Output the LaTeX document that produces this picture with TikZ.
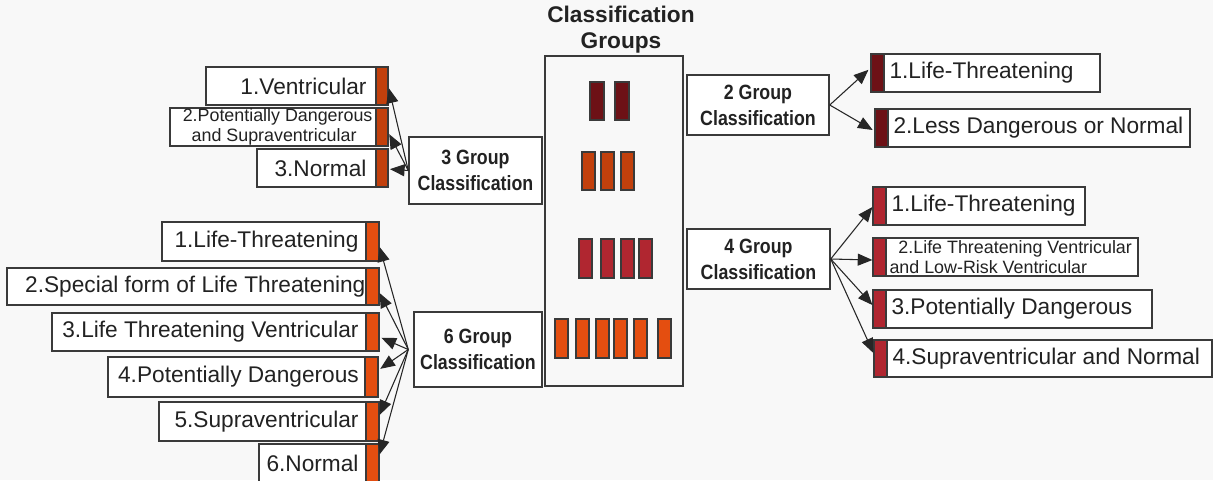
\documentclass[tikz,border=0pt]{standalone}
\usepackage{fontspec}
\setmainfont{Liberation Sans}
\newfontfamily\narrowfont{Liberation Sans}[FakeStretch=0.86]
\usetikzlibrary{fit,arrows.meta,calc}
\definecolor{bg}{HTML}{F8F8F8}
\definecolor{ink}{HTML}{222222}
\definecolor{edge}{HTML}{3A3A3A}
\definecolor{ctwo}{HTML}{6D1116}
\definecolor{cthree}{HTML}{C2400C}
\definecolor{cfour}{HTML}{B02630}
\definecolor{csix}{HTML}{E44E10}
\tikzset{
  box/.style={draw=edge, line width=1.1pt, fill=white, inner sep=0pt},
  bar/.style={draw=edge, line width=0.9pt, inner sep=0pt},
  grp/.style={draw=edge, line width=1.1pt, fill=white, inner sep=0pt},
  grptxt/.style={text=ink, align=center, inner sep=0pt, font=\narrowfont\bfseries\fontsize{15.5}{19.5}\selectfont},
  itxt/.style={text=ink, inner sep=0pt, font=\fontsize{17}{20}\selectfont},
  stxt/.style={text=ink, inner sep=0pt, align=left, font=\fontsize{13.4}{15}\selectfont},
  arr/.style={draw=black!85, line width=0.8pt, -{Triangle[length=11pt,width=9pt]}},
}
\begin{document}
\begin{tikzpicture}[x=0.75pt,y=-0.75pt]
\fill[bg] (0,0) rectangle (1213,480);
\clip (0,0) rectangle (1213,480);

% title and central box
\node[text=ink, align=center, inner sep=0pt, font=\bfseries\fontsize{17}{19.5}\selectfont] (title) at (621,30) {Classification\\Groups};
\node[grp, fill=bg, fit={(545,56)(683,386)}] (central) {};
% row bars
\foreach \x [count=\i] in {590,615} \node[bar, fill=ctwo, fit={(\x,82)(\x+14,120)}] (rtwo\i) {};
\foreach \x [count=\i] in {582,601,621} \node[bar, fill=cthree, fit={(\x,152)(\x+13,190)}] (rthree\i) {};
\foreach \x [count=\i] in {579,601,621,639} \node[bar, fill=cfour, fit={(\x,239)(\x+13,278)}] (rfour\i) {};
\foreach \x [count=\i] in {555,576,596,614,634,658} \node[bar, fill=csix, fit={(\x,319)(\x+13,358)}] (rsix\i) {};

% group boxes
\node[grp, fit={(409,137)(542,204)}] (g3) {};
\node[grptxt] (g3t) at (g3.center) {3 Group\\Classification};
\node[grp, fit={(414,312)(542,387)}] (g6) {};
\node[grptxt] (g6t) at (g6.center) {6 Group\\Classification};
\node[grp, fit={(687,75)(829,135)}] (g2) {};
\node[grptxt] (g2t) at (g2.center) {2 Group\\Classification};
\node[grp, fit={(687,229)(830,289)}] (g4) {};
\node[grptxt] (g4t) at (g4.center) {4 Group\\Classification};

% ---- 3 group items (left)
\node[box, fit={(206,67)(376,105)}] (a1) {};
\node[bar, fill=cthree, fit={(376,67)(388,105)}] (a1b) {};
\node[itxt, anchor=east] (a1t) at ([xshift=-7.5pt]a1.east) {1.Ventricular};
\node[box, fit={(170,108)(376,146)}] (a2) {};
\node[bar, fill=cthree, fit={(376,108)(388,146)}] (a2b) {};
\node[stxt, anchor=east] (a2t) at ([xshift=-3pt]a2.east) {2.Potentially Dangerous\\\hspace*{0.5em}and Supraventricular};
\node[box, fit={(257,149)(376,187)}] (a3) {};
\node[bar, fill=cthree, fit={(376,149)(388,187)}] (a3b) {};
\node[itxt, anchor=east] (a3t) at ([xshift=-7.5pt]a3.east) {3.Normal};

\draw[arr, shorten >=1pt] (g3.west) -- ([yshift=-0.75pt]a1b.east);
\draw[arr, shorten >=1pt] (g3.west) -- ([yshift=-4.5pt]a2b.east);
\draw[arr, shorten >=1pt] (g3.west) -- ([yshift=-0.75pt]a3b.east);

% ---- 6 group items (left)
\node[box, fit={(162,222)(366,261)}] (b1) {};
\node[bar, fill=csix, fit={(366,222)(379,261)}] (b1b) {};
\node[itxt, anchor=east] (b1t) at ([xshift=-6pt]b1.east) {1.Life-Threatening};
\node[box, fit={(7,268)(366,305)}] (b2) {};
\node[bar, fill=csix, fit={(366,268)(379,305)}] (b2b) {};
\node[itxt, anchor=east] (b2t) at ([xshift=-0.8pt]b2.east) {2.Special form of Life Threatening};
\node[box, fit={(52,313)(366,351)}] (b3) {};
\node[bar, fill=csix, fit={(366,313)(379,351)}] (b3b) {};
\node[itxt, anchor=east] (b3t) at ([xshift=-6pt]b3.east) {3.Life Threatening Ventricular};
\node[box, fit={(108,357)(365,397)}] (b4) {};
\node[bar, fill=csix, fit={(365,357)(378,397)}] (b4b) {};
\node[itxt, anchor=east] (b4t) at ([xshift=-5pt]b4.east) {4.Potentially Dangerous};
\node[box, fit={(159,402)(366,441)}] (b5) {};
\node[bar, fill=csix, fit={(366,402)(379,441)}] (b5b) {};
\node[itxt, anchor=east] (b5t) at ([xshift=-6pt]b5.east) {5.Supraventricular};
\node[box, fit={(259,444)(366,492)}] (b6) {};
\node[bar, fill=csix, fit={(366,444)(379,492)}] (b6b) {};
\node[itxt, anchor=east] (b6t) at ([xshift=-6pt]b6.east |- 0,463) {6.Normal};

\coordinate (g6o) at ([xshift=-3.75pt]g6.west);
\draw[arr] (g6o) -- ([yshift=-4.1pt]b1b.east);
\draw[arr] (g6o) -- ([yshift=-4.9pt]b2b.east);
\draw[arr, shorten >=1.5pt] (g6o) -- ([yshift=-3.75pt]b3b.east);
\draw[arr, shorten >=1.5pt] (g6o) -- ([yshift=5.25pt]b4b.east);
\draw[arr] (g6o) -- ([yshift=4.9pt]b5b.east);
\draw[arr] (g6o) -- ([yshift=-8.25pt]b6b.north east);

% ---- 2 group items (right)
\node[box, fit={(884,54)(1100,92)}] (c1) {};
\node[bar, fill=ctwo, fit={(871,54)(884,92)}] (c1b) {};
\node[itxt, anchor=west] (c1t) at ([xshift=4.5pt]c1.west) {1.Life-Threatening};
\node[box, fit={(888,109)(1190,147)}] (c2) {};
\node[bar, fill=ctwo, fit={(875,109)(888,147)}] (c2b) {};
\node[itxt, anchor=west] (c2t) at ([xshift=4.5pt]c2.west) {2.Less Dangerous or Normal};

\draw[arr, shorten >=2pt] (g2.east) -- ([yshift=3.75pt]c1b.west);
\draw[arr, shorten >=1.5pt] (g2.east) -- ([yshift=-2.25pt]c2b.west);

% ---- 4 group items (right)
\node[box, fit={(886,187)(1085,225)}] (d1) {};
\node[bar, fill=cfour, fit={(873,187)(886,225)}] (d1b) {};
\node[itxt, anchor=west] (d1t) at ([xshift=4.5pt]d1.west) {1.Life-Threatening};
\node[box, fit={(886,238)(1138,276)}] (d2) {};
\node[bar, fill=cfour, fit={(873,238)(886,276)}] (d2b) {};
\node[stxt, anchor=west] (d2t) at ([xshift=3pt]d2.west) {\hspace*{0.5em}2.Life Threatening Ventricular\\and Low-Risk Ventricular};
\node[box, fit={(886,290)(1152,328)}] (d3) {};
\node[bar, fill=cfour, fit={(873,290)(886,328)}] (d3b) {};
\node[itxt, anchor=west] (d3t) at ([xshift=4.5pt]d3.west) {3.Potentially Dangerous};
\node[box, fit={(887,340)(1212,377)}] (d4) {};
\node[bar, fill=cfour, fit={(874,340)(887,377)}] (d4b) {};
\node[itxt, anchor=west] (d4t) at ([xshift=4.5pt]d4.west) {4.Supraventricular and Normal};

\draw[arr] (g4.east) -- ([yshift=-0.75pt]d1b.west);
\draw[arr] (g4.east) -- ([yshift=-2.25pt]d2b.west);
\draw[arr] (g4.east) -- ([yshift=3pt]d3b.west);
\draw[arr] (g4.east) -- ([yshift=4.1pt]d4b.west);
\end{tikzpicture}
\end{document}
